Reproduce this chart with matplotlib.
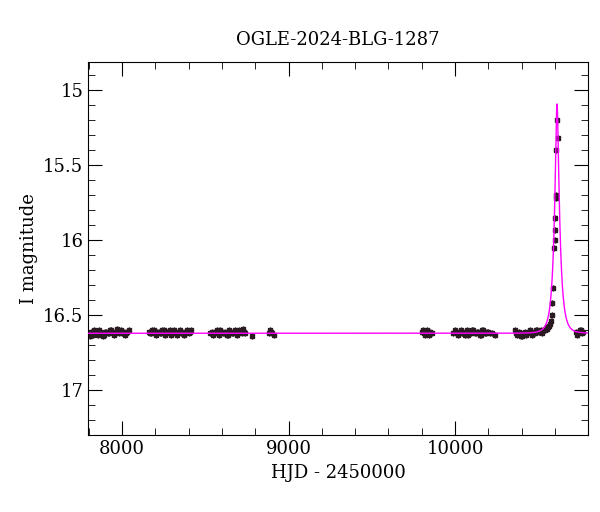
import numpy as np
import matplotlib
matplotlib.use("Agg")
import matplotlib.pyplot as plt

title = "OGLE-2024-BLG-1287"
xlabel = "HJD - 2450000"
ylabel = "I magnitude"

hjd = [7800, 7808, 7815, 7822, 7830, 7838, 7845, 7852, 7860, 7868, 7875, 7882, 7890, 7898, 7905, 7912, 7920, 7928,
       7935, 7942, 7950, 7958, 7965, 7972, 7980, 7988, 7995, 8002, 8010, 8018, 8025, 8032, 8040,
       8160, 8168, 8175, 8182, 8190, 8198, 8205, 8212, 8220, 8228, 8235, 8242, 8250, 8258, 8265, 8272, 8280, 8288,
       8295, 8302, 8310, 8318, 8325, 8332, 8340, 8348, 8355, 8362, 8370, 8378, 8385, 8392, 8400, 8408, 8415,
       8530, 8538, 8545, 8552, 8560, 8568, 8575, 8582, 8590, 8598, 8605, 8612, 8620, 8628, 8635, 8642, 8650, 8658,
       8665, 8672, 8680, 8688, 8695, 8702, 8710, 8718, 8725, 8732, 8740, 8780,
       8880, 8888, 8895, 8902, 8910,
       9800, 9808, 9815, 9822, 9830, 9838, 9845, 9852, 9860,
       9990, 9998, 10005, 10012, 10020, 10028, 10035, 10042, 10050, 10058, 10065, 10072, 10080, 10088, 10095, 10102,
       10110, 10118, 10125, 10132, 10140, 10148, 10155, 10162, 10170, 10178, 10185, 10192, 10200, 10210, 10220, 10240,
       10360, 10368, 10375, 10382, 10390, 10398, 10405, 10412, 10420, 10428, 10435, 10442, 10450, 10458, 10465, 10472,
       10480, 10488, 10495, 10502, 10510, 10518, 10525, 10532, 10540, 10545, 10550, 10555, 10560, 10565, 10570, 10575,
       10580, 10585, 10590, 10594, 10598, 10600, 10602, 10604, 10606, 10608, 10613, 10618,
       10725, 10732, 10740, 10748, 10755, 10762, 10770]
mag = [16.62, 16.64, 16.61, 16.63, 16.60, 16.62, 16.62, 16.63, 16.60, 16.61, 16.62, 16.64, 16.63, 16.61, 16.61, 16.62, 16.62, 16.60,
       16.60, 16.61, 16.63, 16.62, 16.61, 16.59, 16.62, 16.61, 16.60, 16.62, 16.61, 16.63, 16.62, 16.61, 16.60,
       16.61, 16.62, 16.62, 16.60, 16.60, 16.62, 16.63, 16.61, 16.61, 16.62, 16.62, 16.60, 16.60, 16.63, 16.62, 16.61, 16.61, 16.60,
       16.63, 16.62, 16.60, 16.61, 16.62, 16.63, 16.61, 16.60, 16.62, 16.61, 16.63, 16.62, 16.61, 16.60, 16.62, 16.61, 16.60,
       16.62, 16.61, 16.63, 16.62, 16.61, 16.60, 16.62, 16.63, 16.60, 16.61, 16.62, 16.62, 16.61, 16.63, 16.63, 16.60, 16.61, 16.62,
       16.62, 16.61, 16.60, 16.63, 16.62, 16.60, 16.61, 16.62, 16.59, 16.61, 16.62, 16.64,
       16.62, 16.60, 16.61, 16.62, 16.63,
       16.61, 16.60, 16.62, 16.63, 16.60, 16.62, 16.63, 16.61, 16.62,
       16.62, 16.60, 16.61, 16.62, 16.63, 16.61, 16.60, 16.62, 16.62, 16.63, 16.61, 16.60, 16.63, 16.61, 16.62, 16.60,
       16.60, 16.62, 16.62, 16.61, 16.61, 16.63, 16.63, 16.60, 16.60, 16.62, 16.62, 16.61, 16.61, 16.62, 16.62, 16.63,
       16.60, 16.62, 16.63, 16.61, 16.62, 16.64, 16.64, 16.62, 16.61, 16.63, 16.62, 16.61, 16.60, 16.62, 16.63, 16.61,
       16.62, 16.60, 16.60, 16.61, 16.61, 16.60, 16.62, 16.60, 16.60, 16.59, 16.59, 16.58, 16.58, 16.57, 16.56, 16.54,
       16.50, 16.42, 16.32, 16.05, 16.00, 15.93, 15.85, 15.70, 15.72, 15.40, 15.20, 15.32,
       16.61, 16.63, 16.62, 16.60, 16.60, 16.62, 16.61]

# microlensing model parameters
t0, u0, tE, base = 10613.0, 0.25, 33.0, 16.62

t = np.linspace(7780, 10800, 4000)
u = np.sqrt(u0**2 + ((t - t0) / tE)**2)
A = (u**2 + 2) / (u * np.sqrt(u**2 + 4))
model = base - 2.5 * np.log10(A)

plt.rcParams["font.family"] = "DejaVu Serif"
fig = plt.figure(figsize=(6, 5.12), dpi=100)
ax = fig.add_axes([0.147, 0.15, 0.833, 0.729])
ax.errorbar(hjd, mag, yerr=0.02, fmt="s", ms=2.5, color="#2a1a22", ecolor="black", elinewidth=0.8, capsize=0, zorder=2)
ax.plot(t, model, color="#ff00ff", lw=1, zorder=3)
ax.set_xlim(7796, 10799)
ax.set_ylim(17.30, 14.81)
ax.set_xticks([8000, 9000, 10000])
ax.set_yticks([15, 15.5, 16, 16.5, 17])
ax.set_yticklabels(["15", "15.5", "16", "16.5", "17"])
ax.minorticks_on()
ax.tick_params(which="both", direction="in", top=True, right=True, labelsize=13)
ax.tick_params(which="major", length=10)
ax.tick_params(which="minor", length=5)
ax.set_xticks(np.arange(7800, 10800, 200), minor=True)
ax.set_yticks(np.arange(14.9, 17.3, 0.1), minor=True)
ax.set_title(title, fontsize=13, pad=12)
ax.set_xlabel(xlabel, fontsize=13)
ax.set_ylabel(ylabel, fontsize=13)
fig.savefig("out.png")
